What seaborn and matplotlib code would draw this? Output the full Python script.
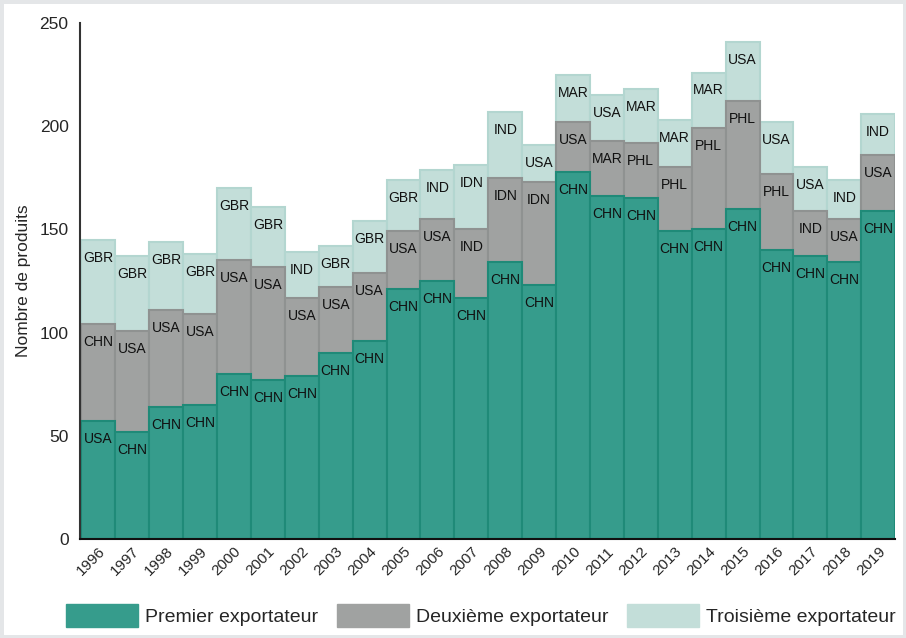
import matplotlib
matplotlib.use('Agg')
import matplotlib.pyplot as plt
import matplotlib.patches as mpatches
import seaborn as sns

years = [str(y) for y in range(1996, 2020)]

# hauteur de chaque segment (nombre de produits)
premier = [57, 52, 64, 65, 80, 77, 79, 90, 96, 121, 125, 117, 134, 123, 178, 166, 165, 149, 150, 160, 140, 137, 134, 159]
deuxieme = [47, 49, 47, 44, 55, 55, 38, 32, 33, 28, 30, 33, 41, 50, 24, 27, 27, 31, 49, 52, 37, 22, 21, 27]
troisieme = [41, 36, 33, 29, 35, 29, 22, 20, 25, 25, 24, 31, 32, 18, 23, 22, 26, 23, 27, 29, 25, 21, 19, 20]

pays_1 = ['USA', 'CHN', 'CHN', 'CHN', 'CHN', 'CHN', 'CHN', 'CHN', 'CHN', 'CHN', 'CHN', 'CHN',
          'CHN', 'CHN', 'CHN', 'CHN', 'CHN', 'CHN', 'CHN', 'CHN', 'CHN', 'CHN', 'CHN', 'CHN']
pays_2 = ['CHN', 'USA', 'USA', 'USA', 'USA', 'USA', 'USA', 'USA', 'USA', 'USA', 'USA', 'IND',
          'IDN', 'IDN', 'USA', 'MAR', 'PHL', 'PHL', 'PHL', 'PHL', 'PHL', 'IND', 'USA', 'USA']
pays_3 = ['GBR', 'GBR', 'GBR', 'GBR', 'GBR', 'GBR', 'IND', 'GBR', 'GBR', 'GBR', 'IND', 'IDN',
          'IND', 'USA', 'MAR', 'USA', 'MAR', 'MAR', 'MAR', 'USA', 'USA', 'USA', 'IND', 'IND']

noms = ['Premier exportateur', 'Deuxième exportateur', 'Troisième exportateur']
couleurs = ['#369c8c', '#a0a2a1', '#c3ded9']
bords = ['#1f8a78', '#8f9291', '#b3d6d0']

sns.set_style('white')
plt.rcParams['font.family'] = ['Liberation Sans', 'DejaVu Sans']

fig = plt.figure(figsize=(9.06, 6.38), dpi=100)
ax = fig.add_axes([0.088, 0.155, 0.9, 0.809])

# cumuls pour l'empilement
cum1 = premier
cum2 = [a + b for a, b in zip(premier, deuxieme)]
cum3 = [a + b for a, b in zip(cum2, troisieme)]

sns.barplot(x=years, y=cum3, color=couleurs[2], edgecolor=bords[2], linewidth=1.5, width=1, ax=ax, saturation=1)
sns.barplot(x=years, y=cum2, color=couleurs[1], edgecolor=bords[1], linewidth=1.5, width=1, ax=ax, saturation=1)
sns.barplot(x=years, y=cum1, color=couleurs[0], edgecolor=bords[0], linewidth=1.5, width=1, ax=ax, saturation=1)

# etiquettes des pays
for i in range(len(years)):
    for top, lab in zip([cum1[i], cum2[i], cum3[i]], [pays_1[i], pays_2[i], pays_3[i]]):
        ax.text(i, top - 8.7, lab, ha='center', va='center', fontsize=10, color='#111111')

ax.set_xlim(-0.55, 23.5)
ax.set_ylim(0, 250)
ax.set_yticks([0, 50, 100, 150, 200, 250])
ax.tick_params(axis='y', direction='in', length=7, width=1.3, labelsize=12.5, pad=8, color='#333333')
ax.tick_params(axis='x', length=0, labelsize=11, pad=4)
for lbl in ax.get_xticklabels():
    lbl.set_rotation(45)
    lbl.set_ha('right')
    lbl.set_rotation_mode('anchor')
ax.set_ylabel('Nombre de produits', fontsize=12.5, labelpad=6)
ax.set_xlabel('')

sns.despine(ax=ax, top=True, right=True)
ax.spines['left'].set_color('#333333')
ax.spines['left'].set_linewidth(1.5)
ax.spines['bottom'].set_color('#111111')
ax.spines['bottom'].set_linewidth(1.5)

handles = [mpatches.Patch(facecolor=c, edgecolor=c) for c in couleurs]
fig.legend(handles, noms, loc='lower left', bbox_to_anchor=(0.058, -0.004), ncol=3, frameon=False,
           fontsize=14, handlelength=3.7, handleheight=1.4, handletextpad=0.36, columnspacing=0.95,
           borderaxespad=0.3)

# cadre gris clair
fig.patches.append(mpatches.Rectangle((0, 0), 1, 1, transform=fig.transFigure, fill=False,
                                      edgecolor='#e4e6e8', linewidth=5))

fig.savefig('out.png', dpi=100)
